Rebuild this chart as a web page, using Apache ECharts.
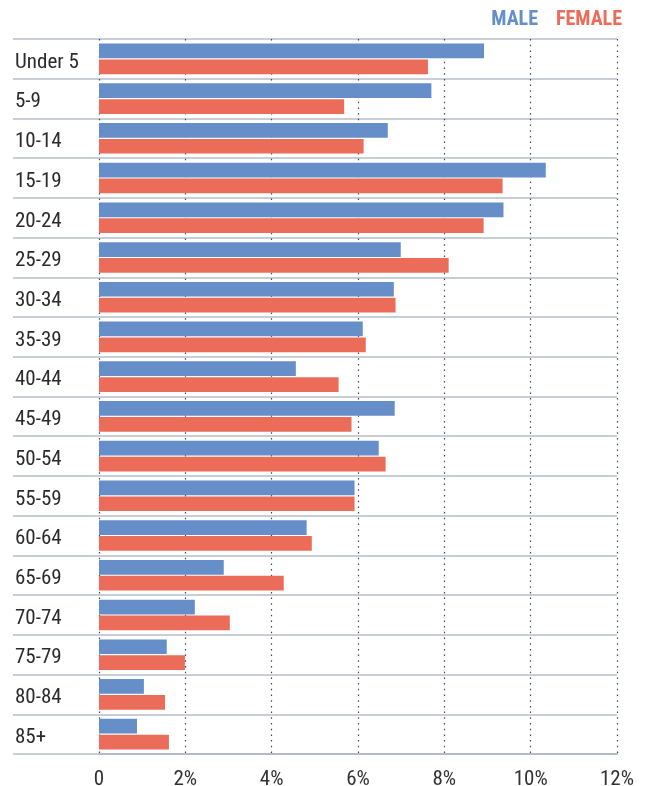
<!DOCTYPE html>
<html>
<head>
<meta charset="utf-8">
<style>
  html, body { margin: 0; padding: 0; background: #ffffff; }
  #chart { width: 649px; height: 786px; }
</style>
<script src="https://cdn.jsdelivr.net/npm/echarts@6/dist/echarts.min.js"></script>
</head>
<body>
<div id="chart"></div>
<script>
// Age groups, top to bottom
const ageGroups = ['Under 5', '5-9', '10-14', '15-19', '20-24', '25-29', '30-34', '35-39',
  '40-44', '45-49', '50-54', '55-59', '60-64', '65-69', '70-74', '75-79', '80-84', '85+'];

// Share of population in each age group (%)
const maleShare = [8.92, 7.70, 6.69, 10.35, 9.37, 6.99, 6.83, 6.11,
  4.56, 6.85, 6.48, 5.92, 4.81, 2.89, 2.22, 1.57, 1.04, 0.88];
const femaleShare = [7.62, 5.68, 6.13, 9.35, 8.91, 8.10, 6.87, 6.18,
  5.55, 5.85, 6.64, 5.92, 4.93, 4.28, 3.03, 1.99, 1.53, 1.62];

// Value axis ticks
const axisMin = 0;
const axisMax = 12;
const axisStep = 2;

const seriesNames = ['MALE', 'FEMALE'];
const colors = ['#668ec8', '#ec6c5a'];
const font = '"Roboto Condensed", "Liberation Sans Narrow", "Roboto", sans-serif';

const chart = echarts.init(document.getElementById('chart'), null, { renderer: 'canvas' });

chart.setOption({
  animation: false,
  textStyle: { fontFamily: font },
  legend: {
    right: 22,
    top: 5,
    itemWidth: 0,
    itemHeight: 0,
    itemGap: 13,
    selectedMode: false,
    data: seriesNames.map((n, i) => ({
      name: n,
      icon: 'rect',
      textStyle: { color: colors[i], fontWeight: 'bold', fontSize: 20, fontFamily: font }
    }))
  },
  grid: [
    // label column + row separators
    { left: 13, right: 32, top: 39, bottom: 32, containLabel: false, outerBoundsMode: 'none' },
    // bar area
    { left: 99, right: 32, top: 39, bottom: 32, containLabel: false, outerBoundsMode: 'none' }
  ],
  xAxis: [
    { gridIndex: 0, type: 'value', show: false, min: axisMin, max: axisMax },
    {
      gridIndex: 1,
      type: 'value',
      min: axisMin,
      max: axisMax,
      interval: axisStep,
      axisLine: { show: true, lineStyle: { color: '#b3b9c6', width: 2 } },
      axisTick: { show: false },
      axisLabel: {
        color: '#333333',
        fontSize: 21,
        margin: 15,
        fontFamily: font,
        formatter: v => (v === 0 ? '0' : v + '%')
      },
      splitLine: {
        show: true,
        lineStyle: { color: '#3c4766', width: 1.2, type: [1.5, 4.2] }
      }
    }
  ],
  yAxis: [
    {
      gridIndex: 0,
      type: 'category',
      data: ageGroups,
      inverse: true,
      axisLine: { show: false },
      axisTick: { show: false },
      axisLabel: {
        inside: true,
        margin: 2,
        align: 'left',
        formatter: v => '{a|' + v + '}',
        rich: {
          a: {
            color: '#2b2b2b',
            fontSize: 21,
            fontFamily: font,
            padding: [7, 0, 0, 0]
          }
        }
      },
      splitLine: { show: true, lineStyle: { color: '#c9cdd5', width: 2 } }
    },
    {
      gridIndex: 1,
      type: 'category',
      data: ageGroups,
      inverse: true,
      axisLine: { show: false },
      axisTick: { show: false },
      axisLabel: { show: false },
      splitLine: { show: false }
    }
  ],
  series: [
    {
      name: seriesNames[0],
      type: 'bar',
      xAxisIndex: 1,
      yAxisIndex: 1,
      data: maleShare,
      itemStyle: { color: colors[0] },
      barCategoryGap: '23%',
      barGap: '8%',
      z: 3
    },
    {
      name: seriesNames[1],
      type: 'bar',
      xAxisIndex: 1,
      yAxisIndex: 1,
      data: femaleShare,
      itemStyle: { color: colors[1] },
      barCategoryGap: '23%',
      barGap: '8%',
      z: 3
    }
  ]
});
</script>
</body>
</html>
